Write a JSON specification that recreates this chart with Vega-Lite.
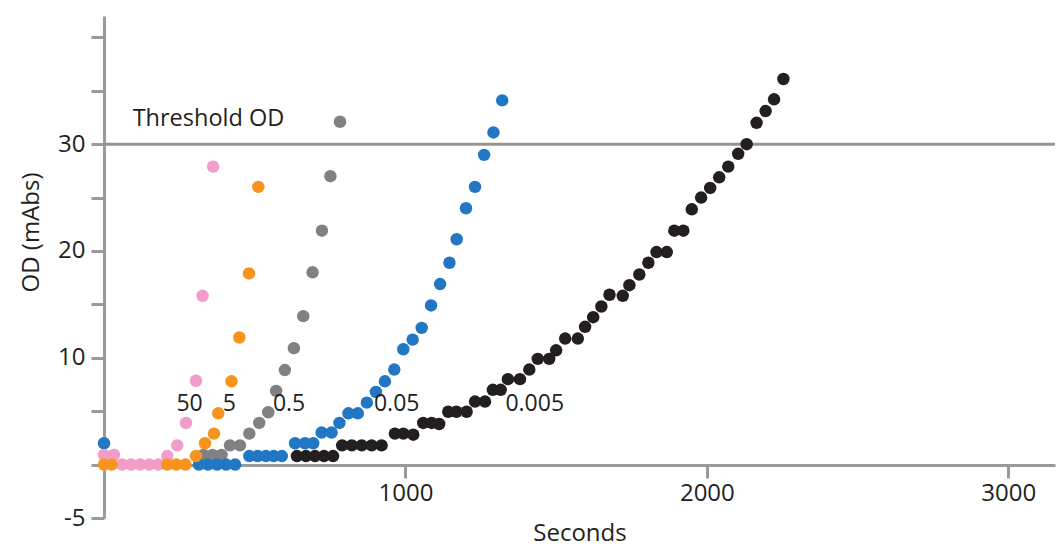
{
  "$schema": "https://vega.github.io/schema/vega-lite/v6.json",
  "width": 951,
  "height": 502,
  "autosize": "none",
  "padding": {"left": 104, "top": 16, "right": 6, "bottom": 29},
  "background": "#ffffff",
  "config": {"view": {"stroke": null}, "font": "Open Sans"},
  "datasets": {
    "points": [
      {"s": "0.5", "x": 330, "y": 0.9}, {"s": "0.5", "x": 360, "y": 0.9}, {"s": "0.5", "x": 390, "y": 0.9},
      {"s": "0.5", "x": 418, "y": 1.8}, {"s": "0.5", "x": 451, "y": 1.8}, {"s": "0.5", "x": 482, "y": 2.9},
      {"s": "0.5", "x": 515, "y": 3.9}, {"s": "0.5", "x": 545, "y": 4.9}, {"s": "0.5", "x": 571, "y": 6.9},
      {"s": "0.5", "x": 600, "y": 8.85}, {"s": "0.5", "x": 630, "y": 10.9}, {"s": "0.5", "x": 661, "y": 13.9},
      {"s": "0.5", "x": 692, "y": 18}, {"s": "0.5", "x": 723, "y": 21.9}, {"s": "0.5", "x": 751, "y": 27},
      {"s": "0.5", "x": 783, "y": 32.1},
      {"s": "0.05", "x": 0, "y": 2}, {"s": "0.05", "x": 315, "y": 0}, {"s": "0.05", "x": 345, "y": 0},
      {"s": "0.05", "x": 375, "y": 0}, {"s": "0.05", "x": 405, "y": 0}, {"s": "0.05", "x": 435, "y": 0},
      {"s": "0.05", "x": 482, "y": 0.8}, {"s": "0.05", "x": 510, "y": 0.8}, {"s": "0.05", "x": 537, "y": 0.8},
      {"s": "0.05", "x": 563, "y": 0.8}, {"s": "0.05", "x": 590, "y": 0.8}, {"s": "0.05", "x": 634, "y": 2},
      {"s": "0.05", "x": 667, "y": 2}, {"s": "0.05", "x": 694, "y": 2}, {"s": "0.05", "x": 722, "y": 3},
      {"s": "0.05", "x": 755, "y": 3}, {"s": "0.05", "x": 781, "y": 3.9}, {"s": "0.05", "x": 811, "y": 4.8},
      {"s": "0.05", "x": 842, "y": 4.8}, {"s": "0.05", "x": 872, "y": 5.8}, {"s": "0.05", "x": 902, "y": 6.8},
      {"s": "0.05", "x": 932, "y": 7.8}, {"s": "0.05", "x": 963, "y": 8.9}, {"s": "0.05", "x": 993, "y": 10.8},
      {"s": "0.05", "x": 1024, "y": 11.7}, {"s": "0.05", "x": 1054, "y": 12.8}, {"s": "0.05", "x": 1085, "y": 14.9},
      {"s": "0.05", "x": 1115, "y": 16.9}, {"s": "0.05", "x": 1146, "y": 18.9}, {"s": "0.05", "x": 1170, "y": 21.1},
      {"s": "0.05", "x": 1201, "y": 24}, {"s": "0.05", "x": 1231, "y": 26}, {"s": "0.05", "x": 1261, "y": 29},
      {"s": "0.05", "x": 1292, "y": 31.1}, {"s": "0.05", "x": 1321, "y": 34.1},
      {"s": "0.005", "x": 640, "y": 0.8}, {"s": "0.005", "x": 670, "y": 0.8}, {"s": "0.005", "x": 700, "y": 0.8},
      {"s": "0.005", "x": 730, "y": 0.8}, {"s": "0.005", "x": 760, "y": 0.8}, {"s": "0.005", "x": 790, "y": 1.8},
      {"s": "0.005", "x": 822, "y": 1.8}, {"s": "0.005", "x": 855, "y": 1.8}, {"s": "0.005", "x": 888, "y": 1.8},
      {"s": "0.005", "x": 921, "y": 1.8}, {"s": "0.005", "x": 965, "y": 2.9}, {"s": "0.005", "x": 993, "y": 2.9},
      {"s": "0.005", "x": 1026, "y": 2.8}, {"s": "0.005", "x": 1059, "y": 3.9}, {"s": "0.005", "x": 1087, "y": 3.9},
      {"s": "0.005", "x": 1112, "y": 3.8}, {"s": "0.005", "x": 1142, "y": 4.95}, {"s": "0.005", "x": 1169, "y": 4.95},
      {"s": "0.005", "x": 1203, "y": 4.95}, {"s": "0.005", "x": 1231, "y": 5.9}, {"s": "0.005", "x": 1264, "y": 5.9},
      {"s": "0.005", "x": 1290, "y": 7}, {"s": "0.005", "x": 1316, "y": 7}, {"s": "0.005", "x": 1340, "y": 8},
      {"s": "0.005", "x": 1380, "y": 8}, {"s": "0.005", "x": 1411, "y": 8.9}, {"s": "0.005", "x": 1439, "y": 9.9},
      {"s": "0.005", "x": 1477, "y": 9.9}, {"s": "0.005", "x": 1500, "y": 10.7}, {"s": "0.005", "x": 1530, "y": 11.8},
      {"s": "0.005", "x": 1572, "y": 11.8}, {"s": "0.005", "x": 1596, "y": 12.9}, {"s": "0.005", "x": 1623, "y": 13.8},
      {"s": "0.005", "x": 1650, "y": 14.8}, {"s": "0.005", "x": 1677, "y": 15.9}, {"s": "0.005", "x": 1721, "y": 15.8},
      {"s": "0.005", "x": 1743, "y": 16.8}, {"s": "0.005", "x": 1776, "y": 17.8}, {"s": "0.005", "x": 1806, "y": 18.9},
      {"s": "0.005", "x": 1833, "y": 19.9}, {"s": "0.005", "x": 1867, "y": 19.9}, {"s": "0.005", "x": 1892, "y": 21.9},
      {"s": "0.005", "x": 1922, "y": 21.9}, {"s": "0.005", "x": 1950, "y": 23.9}, {"s": "0.005", "x": 1981, "y": 25},
      {"s": "0.005", "x": 2011, "y": 25.9}, {"s": "0.005", "x": 2041, "y": 26.9}, {"s": "0.005", "x": 2071, "y": 27.9},
      {"s": "0.005", "x": 2104, "y": 29.1}, {"s": "0.005", "x": 2132, "y": 30}, {"s": "0.005", "x": 2165, "y": 32},
      {"s": "0.005", "x": 2195, "y": 33.1}, {"s": "0.005", "x": 2223, "y": 34.2}, {"s": "0.005", "x": 2254, "y": 36.1},
      {"s": "50", "x": 0, "y": 0.9}, {"s": "50", "x": 33, "y": 0.9}, {"s": "50", "x": 60, "y": 0},
      {"s": "50", "x": 90, "y": 0}, {"s": "50", "x": 120, "y": 0}, {"s": "50", "x": 150, "y": 0},
      {"s": "50", "x": 180, "y": 0}, {"s": "50", "x": 210, "y": 0.8}, {"s": "50", "x": 243, "y": 1.8},
      {"s": "50", "x": 272, "y": 3.9}, {"s": "50", "x": 305, "y": 7.85}, {"s": "50", "x": 327, "y": 15.8},
      {"s": "50", "x": 362, "y": 27.9},
      {"s": "5", "x": 0, "y": 0}, {"s": "5", "x": 25, "y": 0}, {"s": "5", "x": 210, "y": 0},
      {"s": "5", "x": 240, "y": 0}, {"s": "5", "x": 270, "y": 0}, {"s": "5", "x": 305, "y": 0.8},
      {"s": "5", "x": 335, "y": 2}, {"s": "5", "x": 365, "y": 2.9}, {"s": "5", "x": 379, "y": 4.8},
      {"s": "5", "x": 423, "y": 7.8}, {"s": "5", "x": 449, "y": 11.9}, {"s": "5", "x": 481, "y": 17.9},
      {"s": "5", "x": 512, "y": 26}
    ],
    "labels": [
      {"text": "50", "x": 284, "y": 5.7},
      {"text": "5", "x": 416, "y": 5.7},
      {"text": "0.5", "x": 614, "y": 5.7},
      {"text": "0.05", "x": 971, "y": 5.7},
      {"text": "0.005", "x": 1429, "y": 5.7}
    ],
    "threshold": [{"text": "Threshold OD", "x": 95, "y": 32.4, "t": 30}]
  },
  "layer": [
    {
      "data": {"name": "threshold"},
      "mark": {"type": "rule", "color": "#949494", "strokeWidth": 3},
      "encoding": {"y": {"field": "t", "type": "quantitative", "scale": {"domain": [-5, 42], "nice": false, "zero": false}}}
    },
    {
      "data": {"name": "points"},
      "mark": {"type": "circle", "size": 155, "opacity": 1},
      "encoding": {
        "x": {
          "field": "x", "type": "quantitative",
          "scale": {"domain": [0, 3155], "nice": false, "zero": false},
          "axis": {
            "values": [1000, 2000, 3000], "offset": -53, "grid": false,
            "labelExpr": "'' + datum.value",
            "domainColor": "#9a9a9a", "domainWidth": 3, "tickColor": "#9a9a9a", "tickWidth": 3, "tickSize": 13,
            "labelFontSize": 24, "labelColor": "#231f20", "labelPadding": 3,
            "title": "Seconds", "titleFontSize": 24, "titleFontWeight": "normal", "titleColor": "#231f20", "titlePadding": 16
          }
        },
        "y": {
          "field": "y", "type": "quantitative",
          "scale": {"domain": [-5, 42], "nice": false, "zero": false},
          "axis": {
            "values": [-5, 0, 5, 10, 15, 20, 25, 30, 35, 40], "grid": false,
            "labelExpr": "datum.value == -5 || datum.value == 10 || datum.value == 20 || datum.value == 30 ? '' + datum.value : ''",
            "domainColor": "#9a9a9a", "domainWidth": 3, "tickColor": "#9a9a9a", "tickWidth": 3, "tickSize": 13,
            "labelFontSize": 24, "labelColor": "#231f20", "labelPadding": 6,
            "title": "OD (mAbs)", "titleFontSize": 24, "titleFontWeight": "normal", "titleColor": "#231f20",
            "titleX": -73, "titleY": 216, "titleAlign": "center", "titleBaseline": "middle", "titleAngle": -90
          }
        },
        "color": {
          "field": "s", "type": "nominal", "legend": null,
          "scale": {"domain": ["50", "5", "0.5", "0.05", "0.005"], "range": ["#f29cc8", "#f7941d", "#808184", "#2177c4", "#231f20"]}
        }
      }
    },
    {
      "data": {"name": "labels"},
      "mark": {"type": "text", "fontSize": 23, "color": "#231f20", "align": "center", "baseline": "middle"},
      "encoding": {
        "x": {"field": "x", "type": "quantitative"},
        "y": {"field": "y", "type": "quantitative"},
        "text": {"field": "text"}
      }
    },
    {
      "data": {"name": "threshold"},
      "mark": {"type": "text", "fontSize": 23.5, "color": "#231f20", "align": "left", "baseline": "middle"},
      "encoding": {
        "x": {"field": "x", "type": "quantitative"},
        "y": {"field": "y", "type": "quantitative"},
        "text": {"field": "text"}
      }
    }
  ]
}
